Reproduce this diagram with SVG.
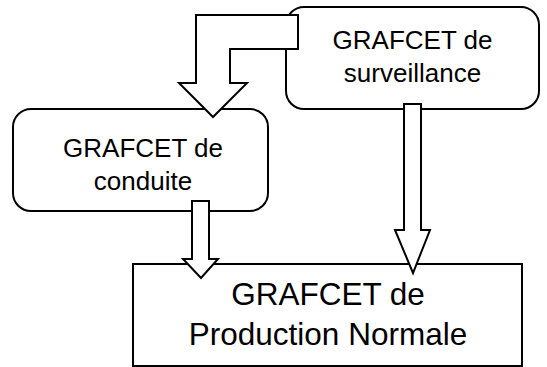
<svg xmlns="http://www.w3.org/2000/svg" width="547" height="367" viewBox="0 0 547 367">
  <style>
    .box { fill: #ffffff; stroke: #000000; stroke-width: 2; }
    .arrow { fill: #ffffff; stroke: #000000; stroke-width: 2; stroke-linejoin: miter; }
    .label { font-family: "Liberation Sans", Arial, sans-serif; fill: #000000; text-anchor: middle; }
    .small { font-size: 26px; }
    .large { font-size: 31.5px; }
  </style>
  <rect width="547" height="367" fill="#ffffff"/>

  <g id="surveillance">
    <rect class="box" x="286" y="7" width="253" height="102" rx="18" ry="18"/>
    <text class="label small" x="412.5" y="49">GRAFCET de</text>
    <text class="label small" x="412.5" y="82">surveillance</text>
  </g>

  <g id="conduite">
    <rect class="box" x="13" y="109" width="255" height="102" rx="18" ry="18"/>
    <text class="label small" x="143" y="157">GRAFCET de</text>
    <text class="label small" x="143" y="190">conduite</text>
  </g>

  <g id="production">
    <rect class="box" x="133" y="264" width="389" height="102"/>
    <text class="label large" x="328" y="305">GRAFCET de</text>
    <text class="label large" x="328" y="345">Production Normale</text>
  </g>

  <g id="connectors">
    <polygon class="arrow" points="298,15 196,15 196,83 179,83 213,117 247,83 230,83 230,49 298,49"/>
    <polygon class="arrow" points="192,201 209,201 209,259 218,259 201,278 183,259 192,259"/>
    <polygon class="arrow" points="404,104 421,104 421,230 430,230 413,273 395,230 404,230"/>
  </g>
</svg>
